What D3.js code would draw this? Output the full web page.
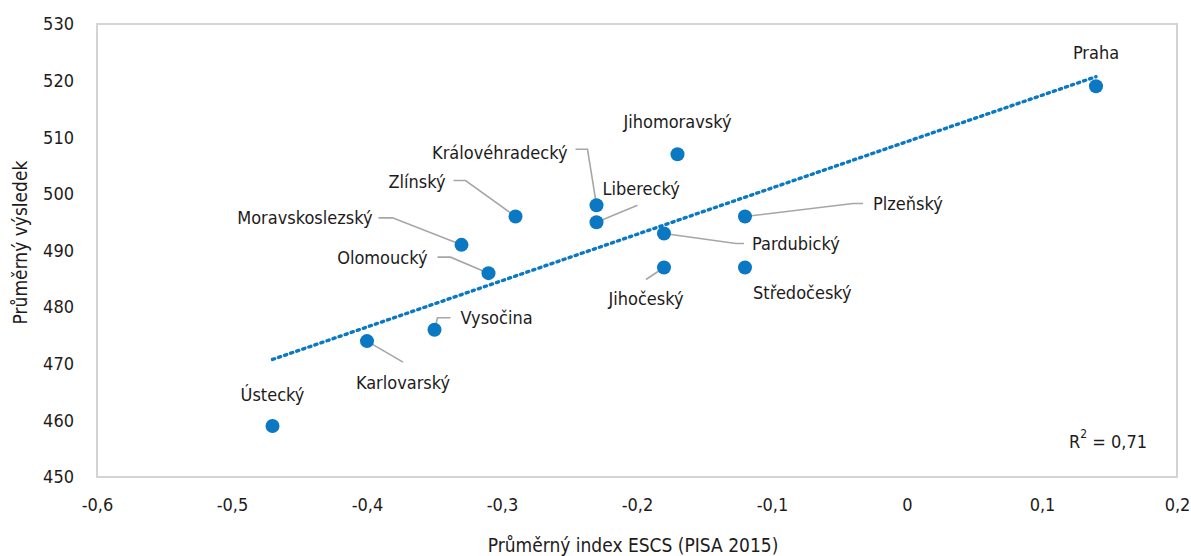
<!DOCTYPE html>
<html>
<head>
<meta charset="utf-8">
<script src="https://cdn.jsdelivr.net/npm/d3@7"></script>
<style>
  html, body { margin: 0; padding: 0; background: #fff; }
  svg text { font-family: "DejaVu Sans Condensed", "DejaVu Sans", sans-serif; font-stretch: condensed; fill: #1e1b1c; }
</style>
</head>
<body>
<svg id="chart" width="1191" height="556"></svg>
<script>
// ---- data ----
const regions = ["Praha", "Jihomoravský", "Královéhradecký", "Liberecký", "Zlínský", "Moravskoslezský", "Olomoucký", "Vysočina", "Karlovarský", "Ústecký", "Pardubický", "Jihočeský", "Plzeňský", "Středočeský"];
const escs    = [0.14, -0.17, -0.23, -0.23, -0.29, -0.33, -0.31, -0.35, -0.40, -0.47, -0.18, -0.18, -0.12, -0.12];
const score   = [519, 507, 498, 495, 496, 491, 486, 476, 474, 459, 493, 487, 496, 487];
const xTicks = [-0.6, -0.5, -0.4, -0.3, -0.2, -0.1, 0, 0.1, 0.2];
const yTicks = [450, 460, 470, 480, 490, 500, 510, 520, 530];
const xTitle = "Průměrný index ESCS (PISA 2015)";
const yTitle = "Průměrný výsledek";
const r2Text = "0,71";

// ---- label layout (pixel offsets from each point) ----
const labelLayout = {
  "Praha":           { dx: 0,   dy: -34, anchor: "middle", leader: null },
  "Jihomoravský":    { dx: 0,   dy: -33, anchor: "middle", leader: null },
  "Královéhradecký": { dx: -29, dy: -53, anchor: "end",    leader: [[-21,-56],[-9,-56],[0,0]] },
  "Liberecký":       { dx: 6,   dy: -34, anchor: "start",  leader: [[41,-17],[0,0]] },
  "Zlínský":         { dx: -70, dy: -35, anchor: "end",    leader: [[-62,-36],[-50,-36],[0,0]] },
  "Moravskoslezský": { dx: -89, dy: -27, anchor: "end",    leader: [[-83,-27],[-69,-27],[0,0]] },
  "Olomoucký":       { dx: -61, dy: -16, anchor: "end",    leader: [[-51,-16],[-38,-16],[0,0]] },
  "Vysočina":        { dx: 26,  dy: -12, anchor: "start",  leader: [[16,-12],[3,-12],[0,0]] },
  "Karlovarský":     { dx: 36,  dy: 41,  anchor: "middle", leader: [[36,21],[0,0]] },
  "Ústecký":         { dx: 0,   dy: -32, anchor: "middle", leader: null },
  "Pardubický":      { dx: 88,  dy: 10,  anchor: "start",  leader: [[80,10],[72,10],[0,0]] },
  "Jihočeský":       { dx: -18, dy: 31,  anchor: "middle", leader: [[-18,12],[0,0]] },
  "Plzeňský":        { dx: 128, dy: -13, anchor: "start",  leader: [[118,-13],[108,-13],[0,0]] },
  "Středočeský":     { dx: 8,   dy: 25,  anchor: "start",  leader: null }
};

const blue = "#0a78c3";
const fontSize = 18;

const svg = d3.select("#chart");
const plot = { left: 97, right: 1177, top: 24, bottom: 477 };

const x = d3.scaleLinear().domain([-0.6, 0.2]).range([plot.left, plot.right]);
const y = d3.scaleLinear().domain([450, 530]).range([plot.bottom, plot.top]);

const loc = d3.formatLocale({ decimal: ",", thousands: " ", grouping: [3], currency: ["", ""], minus: "-" });
const fx = v => Math.abs(v) < 1e-9 ? "0" : loc.format(".1f")(v);

// frame
svg.append("rect")
  .attr("x", plot.left).attr("y", plot.top)
  .attr("width", plot.right - plot.left).attr("height", plot.bottom - plot.top)
  .attr("fill", "none").attr("stroke", "#d4d4d4").attr("stroke-width", 2);

// axes
const xAxis = d3.axisBottom(x).tickValues(xTicks).tickFormat(fx).tickSize(0).tickPadding(21);
const gx = svg.append("g").attr("transform", `translate(0,${plot.bottom})`).call(xAxis);
gx.select(".domain").remove();

const yAxis = d3.axisLeft(y).tickValues(yTicks).tickFormat(d3.format("d")).tickSize(0).tickPadding(23);
const gy = svg.append("g").attr("transform", `translate(${plot.left},0)`).call(yAxis);
gy.select(".domain").remove();

svg.selectAll(".tick text")
  .attr("font-family", null).attr("font-size", null)
  .style("font-size", fontSize + "px").attr("fill", "#1e1b1c");
svg.selectAll("g").attr("font-family", null).attr("font-size", null);

// axis titles
svg.append("text").attr("x", 633).attr("y", 545).attr("text-anchor", "middle")
  .attr("dominant-baseline", "central").style("font-size", "19px").text(xTitle);
svg.append("text").attr("transform", `translate(20,${(plot.top + plot.bottom) / 2 - 8}) rotate(-90)`)
  .attr("text-anchor", "middle").attr("dominant-baseline", "central").style("font-size", "19px").text(yTitle);

// regression line
const n = escs.length;
const mx = d3.mean(escs), my = d3.mean(score);
let sxy = 0, sxx = 0;
for (let i = 0; i < n; i++) { sxy += (escs[i] - mx) * (score[i] - my); sxx += (escs[i] - mx) ** 2; }
const slope = sxy / sxx, icpt = my - slope * mx;
const [x0, x1] = d3.extent(escs);
svg.append("line")
  .attr("x1", x(x0)).attr("y1", y(icpt + slope * x0))
  .attr("x2", x(x1)).attr("y2", y(icpt + slope * x1))
  .attr("stroke", blue).attr("stroke-width", 3.4)
  .attr("stroke-dasharray", "2.2,4.2").attr("stroke-linecap", "round");

// points data
const pts = regions.map((r, i) => ({ name: r, x: escs[i], y: score[i] }));

// leaders
const lineGen = d3.line();
svg.append("g").selectAll("path").data(pts.filter(d => labelLayout[d.name].leader))
  .join("path")
  .attr("d", d => lineGen(labelLayout[d.name].leader.map(([dx, dy]) => [x(d.x) + dx, y(d.y) + dy])))
  .attr("fill", "none").attr("stroke", "#a6a6a6").attr("stroke-width", 1.6);

// dots
svg.append("g").selectAll("circle").data(pts).join("circle")
  .attr("cx", d => x(d.x)).attr("cy", d => y(d.y)).attr("r", 7)
  .attr("fill", blue);

// labels
svg.append("g").selectAll("text").data(pts).join("text")
  .attr("x", d => x(d.x) + labelLayout[d.name].dx)
  .attr("y", d => y(d.y) + labelLayout[d.name].dy)
  .attr("text-anchor", d => labelLayout[d.name].anchor)
  .attr("dominant-baseline", "central")
  .style("font-size", fontSize + "px")
  .text(d => d.name);

// R² annotation
const r2 = svg.append("text").attr("x", 1147).attr("y", 441).attr("text-anchor", "end")
  .attr("dominant-baseline", "central").style("font-size", fontSize + "px");
r2.append("tspan").text("R");
r2.append("tspan").attr("dy", -7).style("font-size", "12px").text("2");
r2.append("tspan").attr("dy", 7).text(" = " + r2Text);
</script>
</body>
</html>
